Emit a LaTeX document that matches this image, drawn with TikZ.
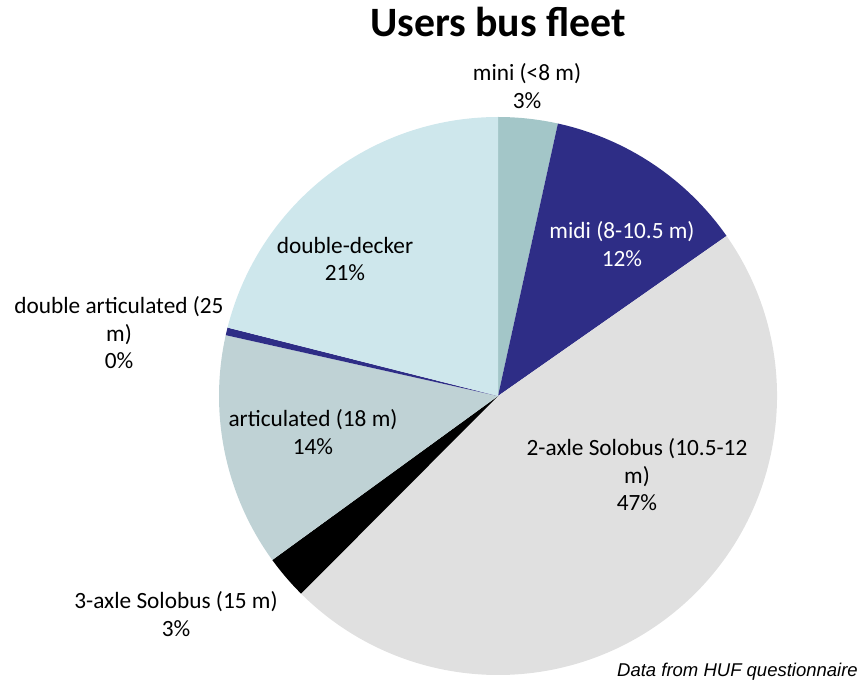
\documentclass[tikz,border=0pt]{standalone}
\usepackage{fontspec}
\setmainfont{Carlito}
\newfontfamily\notefont{Liberation Sans}
\definecolor{miniC}{RGB}{163,198,200}
\definecolor{navyC}{RGB}{46,45,134}
\definecolor{twoC}{RGB}{224,224,224}
\definecolor{artC}{RGB}{191,210,213}
\definecolor{ddC}{RGB}{206,231,236}
\begin{document}
\begin{tikzpicture}[x=1pt,y=1pt,
  lbl/.style={align=center,inner sep=0pt,font=\fontsize{23.3}{27.5}\selectfont}]
\useasboundingbox (0,0) rectangle (861,686);
\coordinate (c) at (498,290);
\def\R{279}
\newcommand{\pieslice}[3]{\fill[#3] (c) -- ++(#1:\R) arc[start angle=#1, end angle=#2, radius=\R] -- cycle;}
\pieslice{90}{77.6}{miniC}
\pieslice{77.6}{35.0}{navyC}
\pieslice{35.0}{-134.9}{twoC}
\pieslice{-134.9}{-144.0}{black}
\pieslice{-144.0}{-192.6}{artC}
\pieslice{-192.6}{-194.2}{navyC}
\pieslice{-194.2}{-270}{ddC}
\node[font=\fontsize{41.8}{48}\selectfont\bfseries,inner sep=0pt] (title) at (498,664) {Users bus fleet};
\node[lbl] (mini) at (527,600) {mini (<8 m)\\3\%};
\node[lbl,text=white] (midi) at (622,442) {midi (8-10.5 m)\\12\%};
\node[lbl] (two) at (637,211) {2-axle Solobus (10.5-12\\m)\\47\%};
\node[lbl] (three) at (176,72) {3-axle Solobus (15 m)\\3\%};
\node[lbl] (art) at (313,254) {articulated (18 m)\\14\%};
\node[lbl] (dart) at (119,353) {double articulated (25\\m)\\0\%};
\node[lbl] (dd) at (345,427) {double-decker\\21\%};
\node[font=\notefont\itshape\fontsize{18.5}{22}\selectfont,anchor=east,inner sep=0pt] (note) at (858,14) {Data from HUF questionnaire};
\end{tikzpicture}
\end{document}
